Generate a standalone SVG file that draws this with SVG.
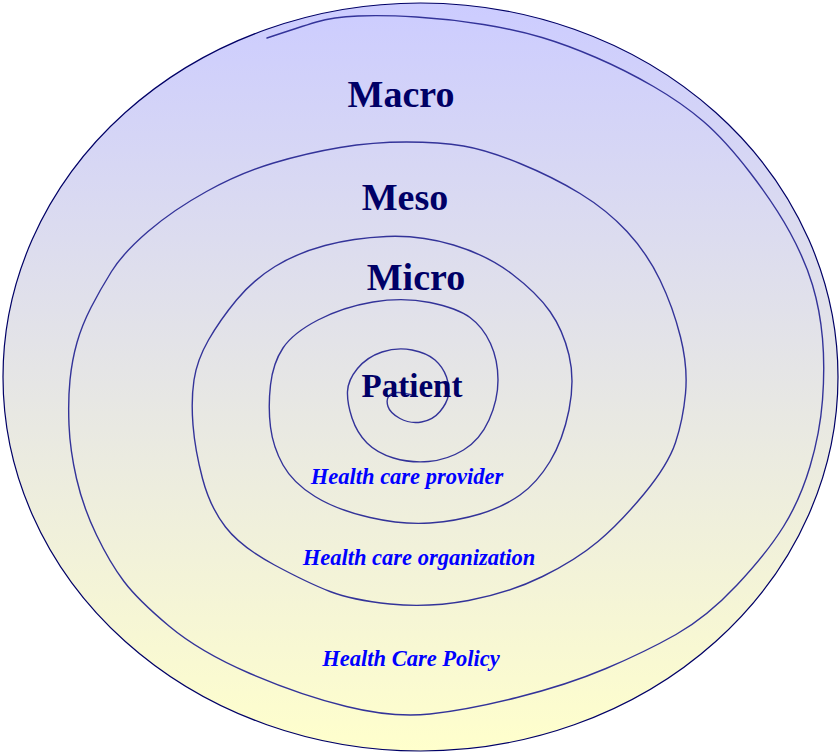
<svg xmlns="http://www.w3.org/2000/svg" width="840" height="753" viewBox="0 0 840 753">
  <defs>
    <linearGradient id="bg" x1="0" y1="0" x2="0" y2="1">
      <stop offset="0" stop-color="#ccccff"/>
      <stop offset="1" stop-color="#ffffcc"/>
    </linearGradient>
  </defs>
  <style>
    .level { font-family: "Liberation Serif", "Times New Roman", serif; font-weight: bold; font-size: 38px; fill: #000066; text-anchor: middle; }
    .actor { font-family: "Liberation Serif", "Times New Roman", serif; font-weight: bold; font-style: italic; font-size: 22.5px; fill: #0000ff; text-anchor: middle; }
    .spiral { fill: none; stroke: #333399; stroke-width: 1.4; stroke-linecap: round; stroke-linejoin: round; }
  </style>
  <rect width="840" height="753" fill="#ffffff"/>
  <g id="outer-ellipse">
    <ellipse cx="420.5" cy="377" rx="417.5" ry="374" fill="url(#bg)" stroke="#000066" stroke-width="1.2"/>
  </g>
  <g id="connectors">
    <path class="spiral" d="M 267,38 Q 300,27 316.5,22 Q 333,17 358,16 Q 383,15 416.5,17 Q 450,19 483.5,24.5 Q 517,30 542,37.5 Q 567,45 596,57.5 Q 625,70 653.5,86.5 Q 682,103 703.5,121.5 Q 725,140 750,172.5 Q 775,205 790,232.5 Q 805,260 812.5,285 Q 820,310 822.5,338.5 Q 825,367 822.5,400 Q 820,433 810,466.5 Q 800,500 783.5,526.5 Q 767,553 737,585 Q 707,617 676,634.5 Q 645,652 606,668.5 Q 567,685 517,697.5 Q 467,710 430,714 Q 393,718 346.5,706.5 Q 300,695 250,673.5 Q 200,652 169,626 Q 138,600 124,581.5 Q 110,563 96.5,535 Q 83,507 76.5,478.5 Q 70,450 69,425 Q 68,400 70,380 Q 72,360 77,342.5 Q 82,325 91,307.5 Q 100,290 111.5,271.5 Q 123,253 148,231.5 Q 173,210 206.5,191.5 Q 240,173 273.5,163 Q 307,153 340,147.5 Q 373,142 406.5,142 Q 440,142 463.5,146 Q 487,150 520,163.5 Q 553,177 580,193.5 Q 607,210 627,231.5 Q 647,253 660,280 Q 673,307 680.5,337 Q 688,367 685.5,393.5 Q 683,420 675.5,442.5 Q 668,465 644,494 Q 620,523 598,541.5 Q 576,560 542.5,576.5 Q 509,593 468.5,600.5 Q 428,608 390,604 Q 352,600 330,591.5 Q 308,583 274.5,565 Q 241,547 225.5,527 Q 210,507 202.5,478.5 Q 195,450 193,425 Q 191,400 194,380 Q 197,360 208.5,340 Q 220,320 236.5,300 Q 253,280 275,266.5 Q 297,253 325,245.5 Q 353,238 386.5,236.5 Q 420,235 453.5,245 Q 487,255 512,274 Q 537,293 550,311.5 Q 563,330 569,355 Q 575,380 569,410 Q 563,440 550,461.5 Q 537,483 520,495 Q 503,507 480,514 Q 457,521 430,523 Q 403,525 370,517.5 Q 337,510 315,496.5 Q 293,483 283,465 Q 273,447 270.5,427 Q 268,407 270.5,385 Q 273,363 283,348 Q 293,333 318,320 Q 343,307 373,302 Q 403,297 430,302.5 Q 457,308 470,317.5 Q 483,327 490.5,343.5 Q 498,360 498,380 Q 498,400 489,420 Q 480,440 463.5,450 Q 447,460 428.5,461.5 Q 410,463 393.5,458 Q 377,453 367,443 Q 357,433 352,418 Q 347,403 347.5,391.5 Q 348,380 357.5,368.5 Q 367,357 382,352 Q 397,347 412,350 Q 427,353 435,360 Q 443,367 446.5,377 Q 450,387 448.5,395 Q 447,403 440,411.5 Q 433,420 421.5,422 Q 410,424 400,418.5 Q 390,413 388,406.5 Q 386,400 388.5,396.5 Q 391,393 397,392.5 Q 403,392 415,396"/>
  </g>
  <g id="macro"><text class="level" x="401" y="107">Macro</text></g>
  <g id="meso"><text class="level" x="405" y="210">Meso</text></g>
  <g id="micro"><text class="level" x="416" y="290">Micro</text></g>
  <g id="patient"><text class="level" x="412" y="397" style="font-size:33px">Patient</text></g>
  <g id="provider"><text class="actor" x="407" y="484">Health care provider</text></g>
  <g id="organization"><text class="actor" x="419" y="565">Health care organization</text></g>
  <g id="policy"><text class="actor" x="411" y="666">Health Care Policy</text></g>
</svg>
